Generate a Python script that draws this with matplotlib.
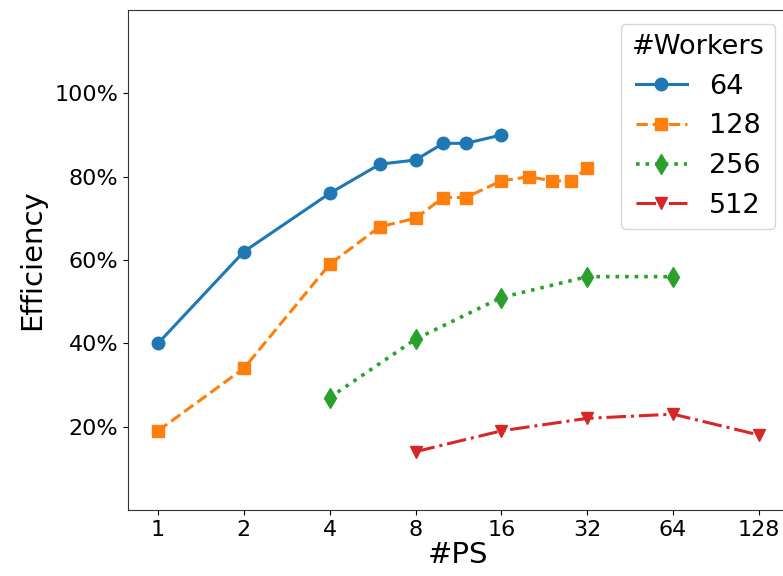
import matplotlib
matplotlib.use("Agg")
import matplotlib.pyplot as plt

ps_64 = [1, 2, 4, 6, 8, 10, 12, 16]
eff_64 = [40, 62, 76, 83, 84, 88, 88, 90]
ps_128 = [1, 2, 4, 6, 8, 10, 12, 16, 20, 24, 28, 32]
eff_128 = [19, 34, 59, 68, 70, 75, 75, 79, 80, 79, 79, 82]
ps_256 = [4, 8, 16, 32, 64]
eff_256 = [27, 41, 51, 56, 56]
ps_512 = [8, 16, 32, 64, 128]
eff_512 = [14, 19, 22, 23, 18]
xticks = [1, 2, 4, 8, 16, 32, 64, 128]
yticks = [20, 40, 60, 80, 100]

fig = plt.figure(figsize=(7.83, 5.76), dpi=100)
ax = fig.add_axes([128/783, 66/576, 661/783, 500/576])

ax.plot(ps_64, eff_64, '-', marker='o', color='#1f77b4', lw=2.2, ms=9, label='64')
ax.plot(ps_128, eff_128, '--', marker='s', color='#ff7f0e', lw=2.2, ms=9, label='128')
ax.plot(ps_256, eff_256, ':', marker='d', color='#2ca02c', lw=2.6, ms=10, label='256')
ax.plot(ps_512, eff_512, '-.', marker='v', color='#d62728', lw=2.2, ms=9, label='512')

ax.set_xscale('log', base=2)
ax.set_xticks(xticks)
ax.set_xticklabels([str(t) for t in xticks])
ax.minorticks_off()
ax.set_ylim(0, 120)
ax.set_yticks(yticks)
ax.set_yticklabels([f"{t}%" for t in yticks])
ax.tick_params(labelsize=16)
for s in ax.spines.values():
    s.set_color('#333333')
ax.set_xlabel('#PS', fontsize=21, labelpad=1)
ax.set_ylabel('Efficiency', fontsize=21, labelpad=6)
ax.legend(title='#Workers', loc='upper right', fontsize=19.5, title_fontsize=19.5,
          handlelength=1.9)

fig.savefig('out.png', dpi=100)
